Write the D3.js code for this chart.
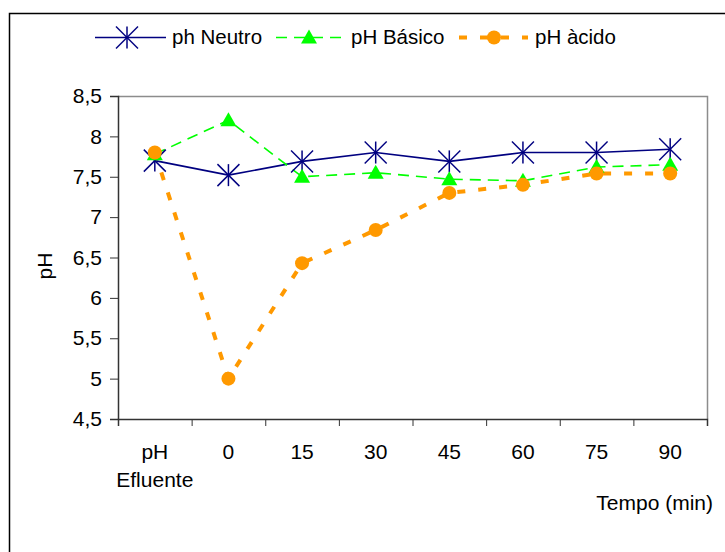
<!DOCTYPE html>
<html>
<head>
<meta charset="utf-8">
<script src="https://cdn.jsdelivr.net/npm/d3@7"></script>
<style>
  html, body { margin: 0; padding: 0; background: #fff; }
  svg { display: block; font-family: "Liberation Sans", Arial, sans-serif; }
</style>
</head>
<body>
<svg id="chart" width="725" height="552"></svg>
<script>
// Categories along the time axis
const categories = ["pH\nEfluente", "0", "15", "30", "45", "60", "75", "90"];
// pH readings per series
const neutro = [7.70, 7.52, 7.69, 7.80, 7.69, 7.80, 7.80, 7.84];
const basico = [7.78, 8.20, 7.50, 7.55, 7.47, 7.45, 7.62, 7.65];
const acido  = [7.80, 5.00, 6.43, 6.84, 7.30, 7.40, 7.54, 7.54];
const yTicks = [4.5, 5, 5.5, 6, 6.5, 7, 7.5, 8, 8.5];

const FONT = 21;
const LEGEND_FONT = 20.5;
const svg = d3.select("#chart");
const plot = { left: 118, right: 707, top: 96, bottom: 419 };

// Outer frame (top and left edges visible)
svg.append("path")
  .attr("d", "M9.5,552 L9.5,13.5 L725,13.5")
  .attr("fill", "none").attr("stroke", "#000").attr("stroke-width", 1.5);

const x = d3.scaleBand().domain(d3.range(categories.length))
  .range([plot.left, plot.right]).paddingInner(0).paddingOuter(0);
const y = d3.scaleLinear().domain([4.5, 8.5]).range([plot.bottom, plot.top]);
const cx = i => x(i) + x.bandwidth() / 2;

// Plot area border (top/right gray)
svg.append("path")
  .attr("d", `M${plot.left},${plot.top + 0.5} L${plot.right + 0.5},${plot.top + 0.5} L${plot.right + 0.5},${plot.bottom}`)
  .attr("fill", "none").attr("stroke", "#8c8c8c").attr("stroke-width", 1.5);

// Y axis
const yAxis = d3.axisLeft(y).tickValues(yTicks).tickSize(8).tickPadding(8)
  .tickFormat(d => String(d).replace(".", ","));
const gy = svg.append("g").attr("transform", `translate(${plot.left},0)`).call(yAxis);
gy.select(".domain").attr("stroke", "#333").attr("stroke-width", 1.5);
gy.selectAll(".tick line").attr("stroke", "#333");
gy.selectAll("text").attr("font-size", FONT).attr("fill", "#000")
  .attr("font-family", "Liberation Sans, Arial, sans-serif");

// X axis: tick marks at band boundaries
const xTickPos = d3.range(categories.length + 1).map(i => plot.left + i * x.bandwidth());
const xb = d3.scaleLinear().domain([plot.left, plot.right]).range([plot.left, plot.right]);
const xAxis = d3.axisBottom(xb).tickValues(xTickPos).tickSize(7).tickFormat("");
const gx = svg.append("g").attr("transform", `translate(0,${plot.bottom})`).call(xAxis);
gx.select(".domain").attr("stroke", "#333").attr("stroke-width", 1.5);
gx.selectAll(".tick line").attr("stroke", "#333");

// Category labels
categories.forEach((c, i) => {
  const lines = c.split("\n");
  lines.forEach((t, k) => {
    svg.append("text").attr("x", cx(i)).attr("y", 458.5 + k * 28)
      .attr("text-anchor", "middle").attr("font-size", FONT).attr("fill", "#000").text(t);
  });
});

// Axis titles
svg.append("text").attr("transform", "translate(52,266) rotate(-90)")
  .attr("text-anchor", "middle").attr("font-size", FONT).attr("fill", "#000").text("pH");
svg.append("text").attr("x", 713).attr("y", 509.5).attr("text-anchor", "end")
  .attr("font-size", FONT).attr("fill", "#000").text("Tempo (min)");

const line = d3.line().x((d, i) => cx(i)).y(d => y(d));

// Series styles
const series = [
  { name: "ph Neutro", data: neutro, color: "#000080", width: 1.6, dash: null, marker: "asterisk" },
  { name: "pH Básico", data: basico, color: "#00ff00", width: 1.6, dash: "11,7", marker: "triangle" },
  { name: "pH àcido", data: acido, color: "#ff9900", width: 4, dash: "8,13", marker: "circle" }
];

function drawMarker(g, type, color, px, py) {
  if (type === "asterisk") {
    const r = 11;
    const p = g.append("g").attr("transform", `translate(${px},${py})`)
      .attr("stroke", color).attr("stroke-width", 1.5);
    p.append("line").attr("x1", -r).attr("y1", -r).attr("x2", r).attr("y2", r);
    p.append("line").attr("x1", -r).attr("y1", r).attr("x2", r).attr("y2", -r);
    p.append("line").attr("x1", 0).attr("y1", -r).attr("x2", 0).attr("y2", r);
  } else if (type === "triangle") {
    g.append("path").attr("transform", `translate(${px},${py})`)
      .attr("d", "M0,-8 L8,6 L-8,6 Z").attr("fill", color);
  } else {
    g.append("circle").attr("cx", px).attr("cy", py).attr("r", 7).attr("fill", color);
  }
}

series.forEach(s => {
  svg.append("path").datum(s.data).attr("d", line)
    .attr("fill", "none").attr("stroke", s.color).attr("stroke-width", s.width)
    .attr("stroke-dasharray", s.dash);
});
series.forEach(s => {
  const g = svg.append("g");
  s.data.forEach((v, i) => drawMarker(g, s.marker, s.color, cx(i), y(v)));
});

// Legend
const legend = [
  { s: series[0], x1: 95, x2: 166, mx: 127, tx: 172 },
  { s: series[1], x1: 276, x2: 343, mx: 309, tx: 351 },
  { s: series[2], x1: 459, x2: 528, mx: 494, tx: 535 }
];
const ly = 37.5;
legend.forEach(l => {
  svg.append("line").attr("x1", l.x1).attr("x2", l.x2).attr("y1", ly).attr("y2", ly)
    .attr("stroke", l.s.color).attr("stroke-width", l.s.width)
    .attr("stroke-dasharray", l.s.dash);
  drawMarker(svg, l.s.marker, l.s.color, l.mx, ly);
  svg.append("text").attr("x", l.tx).attr("y", ly + 6.5).attr("font-size", LEGEND_FONT)
    .attr("fill", "#000").text(l.s.name);
});
</script>
</body>
</html>
